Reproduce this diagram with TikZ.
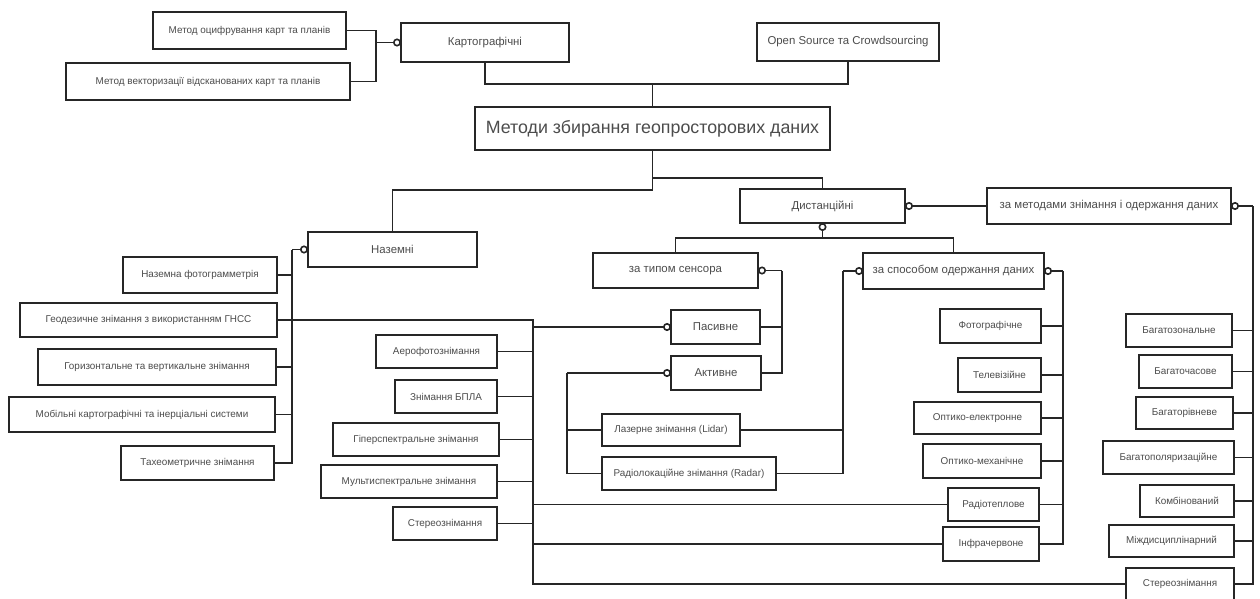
\documentclass[tikz,border=0pt]{standalone}
\usepackage{fontspec}
\setmainfont{Liberation Sans}
\usetikzlibrary{arrows.meta}
\tikzset{
  ln/.style={line width=1.9pt, draw=black!85},
  box/.style={draw=black!85, line width=1.9pt, fill=white, inner sep=1pt, outer sep=0pt, align=center, text=black!70, font=\fontsize{9.9}{11}\selectfont},
  midbox/.style={box, font=\fontsize{11.4}{13}\selectfont},
  catbox/.style={box, line width=2.9pt, font=\fontsize{11.4}{13}\selectfont},
  circ/.style={ln, -{Circle[open, length=8pt, width=8pt, fill=white, line width=1.6pt]}},
}
\newcommand\mybox[7][]{%
  \pgfmathsetmacro\bxc{(#3+#5)/2}\pgfmathsetmacro\byc{(#4+#6)/2}%
  \pgfmathsetmacro\bw{#5-#3}\pgfmathsetmacro\bh{#6-#4}%
  \node[box,#1,minimum width=\bw pt,minimum height=\bh pt] (#2) at (\bxc,\byc) {#7};}
\begin{document}
\begin{tikzpicture}[x=1pt,y=-1pt]
\fill[white] (0,0) rectangle (1260,599);
\useasboundingbox (0,0) rectangle (1260,599);
% top
\mybox[catbox]{kart}{401}{23}{569}{62}{Картографічні}
\mybox{m1}{153}{12}{346}{49}{Метод оцифрування карт та планів}
\mybox{m2}{66}{63}{350}{100}{Метод векторизації відсканованих карт та планів}
\mybox[catbox]{osc}{757}{23}{939}{61}{Open Source та Crowdsourcing}
\mybox[catbox,font=\fontsize{17.8}{21}\selectfont]{main}{475}{107}{830}{150}{Методи збирання геопросторових даних}
% middle
\mybox[catbox]{nazem}{308}{232}{477}{267}{Наземні}
\mybox[catbox]{dist}{740}{189}{905}{223}{Дистанційні}
\mybox[midbox,line width=2.3pt]{metody}{987}{188}{1231}{224}{за методами знімання і одержання даних}
\mybox[midbox]{typ}{593}{253}{758}{288}{за типом сенсора}
\mybox[midbox]{sposib}{863}{253}{1044}{289}{за способом одержання даних}
\mybox[midbox]{pas}{671}{310}{760}{344}{Пасивне}
\mybox[midbox]{akt}{671}{356}{761}{390}{Активне}
\mybox{lidar}{602}{414}{740}{446}{Лазерне знімання (Lidar)}
\mybox{radar}{602}{457}{776}{490}{Радіолокаційне знімання (Radar)}
% ground
\mybox{n1}{123}{257}{277}{293}{Наземна фотограмметрія}
\mybox{n2}{20}{303}{277}{337}{Геодезичне знімання з використанням ГНСС}
\mybox{n3}{38}{349}{276}{385}{Горизонтальне та вертикальне знімання}
\mybox{n4}{9}{397}{275}{432}{Мобільні картографічні та інерціальні системи}
\mybox{n5}{121}{446}{274}{480}{Тахеометричне знімання}
% left of bus
\mybox{a1}{376}{335}{497}{368}{Аерофотознімання}
\mybox{a2}{395}{380}{497}{413}{Знімання БПЛА}
\mybox{a3}{333}{423}{499}{456}{Гіперспектральне знімання}
\mybox{a4}{321}{465}{497}{498}{Мультиспектральне знімання}
\mybox{a5}{393}{507}{497}{540}{Стереознімання}
% sposib children
\mybox{s1}{940}{309}{1041}{343}{Фотографічне}
\mybox{s2}{958}{358}{1041}{392}{Телевізійне}
\mybox{s3}{914}{402}{1041}{434}{Оптико-електронне}
\mybox{s4}{923}{444}{1041}{478}{Оптико-механічне}
\mybox{s5}{948}{488}{1039}{521}{Радіотеплове}
\mybox{s6}{943}{527}{1039}{561}{Інфрачервоне}
% metody children
\mybox{r1}{1126}{314}{1232}{347}{Багатозональне}
\mybox{r2}{1139}{355}{1232}{388}{Багаточасове}
\mybox{r3}{1136}{397}{1233}{429}{Багаторівневе}
\mybox{r4}{1103}{441}{1234}{474}{Багатополяризаційне}
\mybox{r5}{1140}{485}{1234}{517}{Комбінований}
\mybox{r6}{1109}{525}{1234}{557}{Міждисциплінарний}
\mybox{r7}{1126}{568}{1234}{600}{Стереознімання}
% junctions
\coordinate (jK) at ([xshift=-25pt]kart.west);
\coordinate (jTop) at (652.5,84);
\coordinate (jM1) at (652.5,178);
\coordinate (jM2) at (652.5,190);
\coordinate (jN) at ([xshift=-16pt]nazem.west);
\coordinate (jD) at (822.5,238);
\coordinate (jT) at ([xshift=24pt]typ.east);
\coordinate (jSL) at ([xshift=-20pt]sposib.west);
\coordinate (jSR) at ([xshift=19pt]sposib.east);
\coordinate (jA) at ([xshift=-104pt]akt.west);
\coordinate (jB) at (533,327);
\coordinate (jMR) at ([xshift=22pt]metody.east);
% connectors top
\draw[ln] (m1.east) -| (jK);
\draw[ln] (m2.east) -| (jK);
\draw[circ] (jK) -- (kart.west);
\draw[ln] (kart.south) |- (jTop) -| (osc.south);
\draw[ln] (jTop) -- (main.north);
\draw[ln] (main.south) -- (jM2) -| (nazem.north);
\draw[ln] (jM1) -| (dist.north);
% ground bus
\draw[circ] (jN) -- (nazem.west);
\foreach \c in {n1,n2,n3,n4,n5} \draw[ln] (\c.east) -| (jN);
% distance
\draw[circ] (jD) -- (dist.south);
\draw[ln] (jD) -| (typ.north);
\draw[ln] (jD) -| (sposib.north);
\draw[circ] (metody.west) -- (dist.east);
\draw[circ] (jT) -- (typ.east);
\draw[ln] (pas.east) -| (jT);
\draw[ln] (akt.east) -| (jT);
\draw[circ] (jSL) -- (sposib.west);
\draw[ln] (lidar.east) -| (jSL);
\draw[ln] (radar.east) -| (jSL);
\draw[circ] (jA) -- (akt.west);
\draw[ln] (lidar.west) -| (jA);
\draw[ln] (radar.west) -| (jA);
\draw[circ] (jSR) -- (sposib.east);
\foreach \c in {s1,s2,s3,s4,s5,s6} \draw[ln] (\c.east) -| (jSR);
\draw[circ] (jMR) -- (metody.east);
\foreach \c in {r1,r2,r3,r4,r5,r6,r7} \draw[ln] (\c.east) -| (jMR);
% big bus
\draw[circ] (jB) -- (pas.west);
\draw[ln] (n2.east) -| (jB);
\foreach \c in {a1,a2,a3,a4,a5} \draw[ln] (\c.east) -| (jB);
\draw[ln] (jB) |- (s5.west);
\draw[ln] (jB) |- (s6.west);
\draw[ln] (jB) |- (r7.west);
\end{tikzpicture}
\end{document}
